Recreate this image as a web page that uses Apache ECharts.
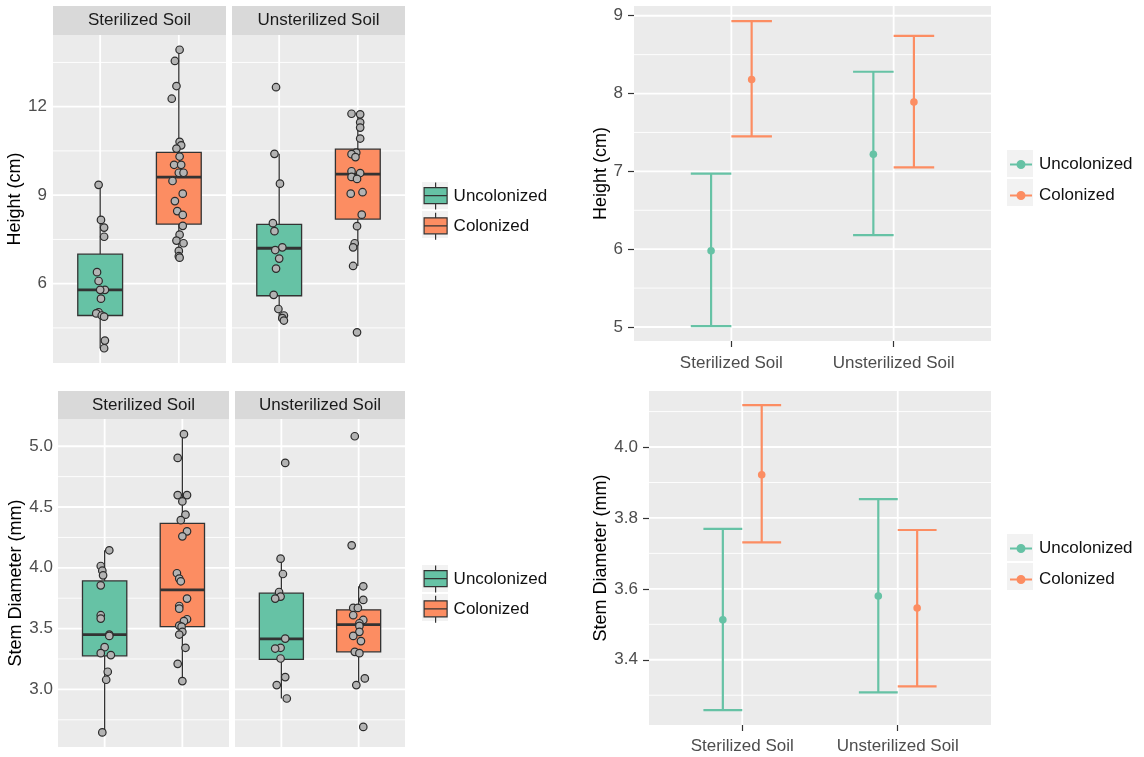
<!DOCTYPE html>
<html>
<head>
<meta charset="utf-8">
<title>Seedling height and stem diameter by soil treatment</title>
<script src="https://cdn.jsdelivr.net/npm/echarts@6/dist/echarts.min.js"></script>
<style>
  html, body { margin: 0; padding: 0; background: #ffffff; }
  #chart { width: 1144px; height: 757px; }
</style>
</head>
<body>
<div id="chart"></div>
<script>
// ---- data -------------------------------------------------------------
const soils = ['Sterilized Soil', 'Unsterilized Soil'];
const groups = ['Uncolonized', 'Colonized'];

// Box summaries: [lower whisker, Q1, median, Q3, upper whisker], [Uncolonized, Colonized]
const heightBoxSterilized = [[3.81, 4.92, 5.79, 7.00, 9.35], [6.88, 8.02, 9.61, 10.45, 13.93]];
const heightBoxUnsterilized = [[4.75, 5.59, 7.20, 8.01, 10.40], [6.60, 8.19, 9.71, 10.56, 11.76]];
const stemBoxSterilized = [[2.646, 3.276, 3.451, 3.892, 4.144], [3.068, 3.516, 3.818, 4.365, 5.099]];
const stemBoxUnsterilized = [[2.925, 3.246, 3.415, 3.791, 4.075], [3.035, 3.309, 3.533, 3.654, 3.848]];

// Individual plants: [jitter, value]
const heightSterUnc = [[-0.02, 9.35], [0.01, 8.16], [0.05, 7.90], [0.05, 7.59], [-0.04, 6.39], [-0.02, 6.09],
  [0.06, 5.79], [0.00, 5.79], [0.01, 5.49], [-0.02, 5.03], [-0.05, 4.99], [0.02, 4.92], [0.05, 4.88],
  [0.06, 4.07], [0.05, 3.81]];
const heightSterCol = [[0.01, 13.93], [-0.05, 13.55], [-0.03, 12.70], [-0.09, 12.27], [0.01, 10.81],
  [0.03, 10.69], [-0.03, 10.58], [0.01, 10.31], [-0.06, 10.03], [0.03, 10.03], [0.00, 9.76], [0.06, 9.76],
  [-0.08, 9.48], [0.05, 9.05], [-0.05, 8.80], [-0.02, 8.46], [0.05, 8.33], [0.05, 7.96], [0.01, 7.66],
  [-0.03, 7.46], [0.06, 7.37], [0.00, 7.11], [0.00, 6.93], [0.01, 6.88]];
const heightUnsterUnc = [[-0.04, 12.66], [-0.06, 10.40], [0.01, 9.39], [-0.08, 8.05], [-0.06, 7.78],
  [0.04, 7.23], [-0.05, 7.14], [0.00, 6.85], [-0.04, 6.51], [-0.07, 5.62], [-0.01, 5.14], [0.06, 4.92],
  [0.04, 4.83], [0.06, 4.75]];
const heightUnsterCol = [[-0.08, 11.76], [0.03, 11.74], [0.03, 11.47], [0.03, 11.29], [0.03, 10.92],
  [-0.02, 10.44], [-0.08, 10.39], [-0.03, 10.29], [-0.08, 9.81], [0.03, 9.75], [-0.08, 9.62], [-0.01, 9.55],
  [0.06, 9.10], [-0.09, 9.05], [0.05, 8.34], [-0.01, 7.95], [-0.04, 7.37], [-0.06, 7.23], [-0.06, 6.60],
  [-0.01, 4.35]];
const stemSterUnc = [[0.06, 4.144], [-0.05, 4.015], [-0.03, 3.976], [-0.02, 3.938], [-0.05, 3.856],
  [-0.05, 3.610], [-0.05, 3.582], [0.06, 3.451], [0.06, 3.440], [0.00, 3.347], [-0.05, 3.298], [0.08, 3.282],
  [0.04, 3.145], [0.02, 3.079], [-0.03, 2.646]];
const stemSterCol = [[0.02, 5.099], [-0.06, 4.904], [-0.06, 4.598], [0.06, 4.598], [0.00, 4.546],
  [0.04, 4.437], [-0.02, 4.392], [0.06, 4.300], [0.00, 4.259], [-0.07, 3.955], [-0.04, 3.911], [-0.02, 3.889],
  [0.06, 3.747], [-0.04, 3.686], [-0.04, 3.664], [0.06, 3.577], [0.02, 3.561], [-0.04, 3.525], [-0.01, 3.516],
  [0.00, 3.473], [-0.04, 3.451], [0.04, 3.342], [-0.06, 3.210], [0.00, 3.068]];
const stemUnsterUnc = [[0.05, 4.863], [-0.01, 4.075], [0.02, 3.949], [-0.03, 3.801], [-0.01, 3.763],
  [-0.08, 3.747], [0.05, 3.418], [-0.01, 3.342], [-0.08, 3.336], [-0.01, 3.254], [0.05, 3.101],
  [-0.06, 3.035], [0.07, 2.925]];
const stemUnsterCol = [[-0.05, 5.082], [-0.09, 4.185], [0.06, 3.848], [0.06, 3.736], [-0.07, 3.670],
  [-0.01, 3.670], [-0.07, 3.610], [0.06, 3.571], [0.01, 3.544], [0.01, 3.522], [0.01, 3.473], [-0.07, 3.440],
  [0.03, 3.397], [-0.05, 3.309], [0.01, 3.298], [0.08, 3.090], [-0.03, 3.035], [0.06, 2.691]];

// Group means with interval limits, [Uncolonized, Colonized] x [Sterilized, Unsterilized]
const heightMean = [[5.98, 7.22], [8.18, 7.89]];
const heightLower = [[5.01, 6.18], [7.45, 7.05]];
const heightUpper = [[6.97, 8.28], [8.93, 8.74]];
const stemMean = [[3.513, 3.580], [3.922, 3.546]];
const stemLower = [[3.258, 3.308], [3.731, 3.325]];
const stemUpper = [[3.769, 3.853], [4.118, 3.766]];

// Axis breaks
const heightBoxTicks = [6, 9, 12];
const heightBoxMinor = [4.5, 7.5, 10.5, 13.5];
const stemBoxTicks = [3.0, 3.5, 4.0, 4.5, 5.0];
const stemBoxMinor = [2.75, 3.25, 3.75, 4.25, 4.75];
const heightBarTicks = [5, 6, 7, 8, 9];
const heightBarMinor = [5.5, 6.5, 7.5, 8.5];
const stemBarTicks = [3.4, 3.6, 3.8, 4.0];
const stemBarMinor = [3.3, 3.5, 3.7, 3.9, 4.1];
const soilPositions = [1, 2];

// ---- styling ----------------------------------------------------------
const COLORS = ['#66c2a5', '#fc8d62'];
const FONT = "'Liberation Sans', Arial, sans-serif";
const PANEL_BG = '#ebebeb';
const STRIP_BG = '#d9d9d9';
const TICK_TEXT = '#4d4d4d';
const BOX_WIDTH = 0.57;
const DODGE = 0.125;
const CAP_WIDTH = 0.25;

const grids = [
  { left: 53, top: 35, width: 173, height: 328 },   // height, sterilized facet
  { left: 232, top: 35, width: 173, height: 328 },  // height, unsterilized facet
  { left: 58, top: 419, width: 171, height: 328 },  // stem, sterilized facet
  { left: 235, top: 419, width: 170, height: 328 }, // stem, unsterilized facet
  { left: 634, top: 6, width: 357, height: 335 },   // height means
  { left: 649, top: 391, width: 342, height: 334 }  // stem means
].map(g => Object.assign({ show: true, backgroundColor: PANEL_BG, borderWidth: 0 }, g));

// ---- helpers ----------------------------------------------------------
function gridLineSeries(idx, majorY, minorY, ymid) {
  const data = [];
  minorY.forEach(v => data.push([0, v, 0.9, ymid]));
  majorY.forEach(v => data.push([0, v, 1.8, ymid]));
  soilPositions.forEach(v => data.push([1, v, 1.8, ymid]));
  return {
    type: 'custom', xAxisIndex: idx, yAxisIndex: idx, z: 1, silent: true,
    name: 'grid', clip: true,
    encode: { x: -1, y: -1 },
    data: data,
    renderItem: function (params, api) {
      const cs = params.coordSys;
      const orient = api.value(0), v = api.value(1), w = api.value(2), mid = api.value(3);
      if (orient === 0) {
        const y = api.coord([1.5, v])[1];
        return { type: 'line', shape: { x1: cs.x, y1: y, x2: cs.x + cs.width, y2: y },
          style: { stroke: '#ffffff', lineWidth: w } };
      }
      const x = api.coord([v, mid])[0];
      return { type: 'line', shape: { x1: x, y1: cs.y, x2: x, y2: cs.y + cs.height },
        style: { stroke: '#ffffff', lineWidth: w } };
    }
  };
}

function boxSeries(idx, gi, summary) {
  return {
    type: 'custom', name: groups[gi], xAxisIndex: idx, yAxisIndex: idx, z: 2,
    itemStyle: { color: COLORS[gi] },
    encode: { x: 0, y: [1, 2, 3, 4, 5] },
    data: [[gi + 1].concat(summary)],
    renderItem: function (params, api) {
      const x = api.value(0);
      const lo = api.coord([x, api.value(1)]);
      const q1 = api.coord([x, api.value(2)]);
      const md = api.coord([x, api.value(3)]);
      const q3 = api.coord([x, api.value(4)]);
      const hi = api.coord([x, api.value(5)]);
      const l = api.coord([x - BOX_WIDTH / 2, api.value(3)])[0];
      const r = api.coord([x + BOX_WIDTH / 2, api.value(3)])[0];
      const edge = { stroke: '#333333', lineWidth: 1.3 };
      return {
        type: 'group', children: [
          { type: 'line', shape: { x1: lo[0], y1: lo[1], x2: q1[0], y2: q1[1] }, style: edge },
          { type: 'line', shape: { x1: hi[0], y1: hi[1], x2: q3[0], y2: q3[1] }, style: edge },
          { type: 'rect', shape: { x: l, y: q3[1], width: r - l, height: q1[1] - q3[1] },
            style: { fill: api.visual('color'), stroke: '#333333', lineWidth: 1.3 } },
          { type: 'line', shape: { x1: l, y1: md[1], x2: r, y2: md[1] },
            style: { stroke: '#333333', lineWidth: 2.8 } }
        ]
      };
    }
  };
}

function pointSeries(idx, gi, pts) {
  return {
    type: 'scatter', name: 'plants', xAxisIndex: idx, yAxisIndex: idx, z: 3, silent: true,
    symbol: 'circle', symbolSize: 7.5,
    itemStyle: { color: '#b3b3b3', borderColor: '#2b2b2b', borderWidth: 1.2, opacity: 1 },
    data: pts.map(p => [gi + 1 + p[0], p[1]])
  };
}

function errorSeries(idx, gi, mean, lower, upper) {
  const offset = gi === 0 ? -DODGE : DODGE;
  return {
    type: 'custom', name: groups[gi], xAxisIndex: idx, yAxisIndex: idx, z: 3,
    itemStyle: { color: COLORS[gi] },
    encode: { x: 0, y: [1, 2, 3] },
    data: soilPositions.map((p, si) => [p + offset, mean[gi][si], lower[gi][si], upper[gi][si]]),
    renderItem: function (params, api) {
      const x = api.value(0);
      const m = api.coord([x, api.value(1)]);
      const lo = api.coord([x, api.value(2)]);
      const hi = api.coord([x, api.value(3)]);
      const l = api.coord([x - CAP_WIDTH / 2, api.value(1)])[0];
      const r = api.coord([x + CAP_WIDTH / 2, api.value(1)])[0];
      const c = api.visual('color');
      const st = { stroke: c, lineWidth: 2.2 };
      return {
        type: 'group', children: [
          { type: 'line', shape: { x1: m[0], y1: lo[1], x2: m[0], y2: hi[1] }, style: st },
          { type: 'line', shape: { x1: l, y1: lo[1], x2: r, y2: lo[1] }, style: st },
          { type: 'line', shape: { x1: l, y1: hi[1], x2: r, y2: hi[1] }, style: st },
          { type: 'circle', shape: { cx: m[0], cy: m[1], r: 3.8 }, style: { fill: c } }
        ]
      };
    }
  };
}

function facetX(idx) {
  return { type: 'value', gridIndex: idx, min: 0.4, max: 2.6,
    axisLabel: { show: false }, axisTick: { show: false }, axisLine: { show: false },
    splitLine: { show: false } };
}

function meansX(idx, margin) {
  return { type: 'value', gridIndex: idx, min: 0.4, max: 2.6,
    axisLine: { show: false },
    axisTick: { show: true, customValues: soilPositions, length: 6, lineStyle: { color: '#333333', width: 1.2 } },
    axisLabel: { customValues: soilPositions, formatter: v => soils[Math.round(v) - 1],
      fontFamily: FONT, fontSize: 17, color: TICK_TEXT, margin: margin },
    splitLine: { show: false } };
}

function yAxisOf(idx, min, max, ticks, opts) {
  const o = Object.assign({ showLabels: true, showTicks: false, name: '', nameGap: 30, digits: 0, margin: 6 }, opts);
  return {
    type: 'value', gridIndex: idx, min: min, max: max,
    name: o.name, nameLocation: 'middle', nameGap: o.nameGap,
    nameTextStyle: { fontFamily: FONT, fontSize: 18, color: '#000000' },
    axisLine: { show: false },
    axisTick: { show: o.showTicks, customValues: ticks, length: 6, lineStyle: { color: '#333333', width: 1.2 } },
    axisLabel: { show: o.showLabels, customValues: ticks, formatter: v => Number(v).toFixed(o.digits),
      fontFamily: FONT, fontSize: 17, color: TICK_TEXT, margin: o.margin },
    splitLine: { show: false }
  };
}

// Facet strip headers and legend key backgrounds
const graphics = [];
[[0, 0], [1, 1], [2, 0], [3, 1]].forEach(([gi, si]) => {
  const g = grids[gi];
  const top = gi < 2 ? 6 : 391;
  const h = g.top - top;
  graphics.push({ type: 'rect', left: g.left, top: top, shape: { width: g.width, height: h },
    style: { fill: STRIP_BG }, silent: true });
  graphics.push({ type: 'text', x: g.left + g.width / 2, y: top + h / 2,
    style: { text: soils[si], fontFamily: FONT, fontSize: 17, fill: '#1a1a1a', align: 'center', verticalAlign: 'middle' },
    silent: true });
});
const legendSpots = [[422, 182], [422, 565], [1007, 150], [1007, 534]];
legendSpots.forEach(([x, y]) => {
  [0, 1].forEach(k => graphics.push({ type: 'rect', left: x, top: y + k * 29,
    shape: { width: 26, height: 27 }, style: { fill: '#f2f2f2' }, silent: true }));
});

const BOX_ICON = 'path://M0,0M26,27M13,0V5M1.5,5H24.5V21H1.5ZM1.5,13H24.5M13,21V27';
const LINE_ICON = 'path://M0,0M26,27M2,13.5H24M13,10A3.5,3.5,0,1,1,13,17A3.5,3.5,0,1,1,13,10Z';

function legendOf(spot, icon, kind) {
  return {
    orient: 'vertical', left: spot[0], top: spot[1], itemWidth: 26, itemHeight: 27, itemGap: 2,
    padding: 0, selectedMode: false,
    textStyle: { fontFamily: FONT, fontSize: 17, color: '#111111' },
    data: groups.map((name, gi) => ({
      name: name, icon: icon,
      itemStyle: kind === 'box'
        ? { color: COLORS[gi], borderColor: '#333333', borderWidth: 1.2 }
        : { color: COLORS[gi], borderColor: COLORS[gi], borderWidth: 2 }
    }))
  };
}

const option = {
  backgroundColor: '#ffffff',
  animation: false,
  grid: grids,
  graphic: graphics,
  legend: [
    legendOf(legendSpots[0], BOX_ICON, 'box'),
    legendOf(legendSpots[1], BOX_ICON, 'box'),
    legendOf(legendSpots[2], LINE_ICON, 'line'),
    legendOf(legendSpots[3], LINE_ICON, 'line')
  ],
  xAxis: [facetX(0), facetX(1), facetX(2), facetX(3), meansX(4, 14), meansX(5, 13)],
  yAxis: [
    yAxisOf(0, 3.31, 14.43, heightBoxTicks, { name: 'Height (cm)', nameGap: 23, margin: 6 }),
    yAxisOf(1, 3.31, 14.43, heightBoxTicks, { showLabels: false }),
    yAxisOf(2, 2.526, 5.224, stemBoxTicks, { name: 'Stem Diameter (mm)', nameGap: 30, digits: 1, margin: 5 }),
    yAxisOf(3, 2.526, 5.224, stemBoxTicks, { showLabels: false }),
    yAxisOf(4, 4.82, 9.125, heightBarTicks, { name: 'Height (cm)', nameGap: 19, showTicks: true, margin: 11 }),
    yAxisOf(5, 3.216, 4.158, stemBarTicks, { name: 'Stem Diameter (mm)', nameGap: 34, showTicks: true, digits: 1, margin: 11 })
  ],
  series: [
    gridLineSeries(0, heightBoxTicks, heightBoxMinor, 8),
    gridLineSeries(1, heightBoxTicks, heightBoxMinor, 8),
    gridLineSeries(2, stemBoxTicks, stemBoxMinor, 4),
    gridLineSeries(3, stemBoxTicks, stemBoxMinor, 4),
    gridLineSeries(4, heightBarTicks, heightBarMinor, 7),
    gridLineSeries(5, stemBarTicks, stemBarMinor, 3.6),

    boxSeries(0, 0, heightBoxSterilized[0]),
    boxSeries(0, 1, heightBoxSterilized[1]),
    boxSeries(1, 0, heightBoxUnsterilized[0]),
    boxSeries(1, 1, heightBoxUnsterilized[1]),
    boxSeries(2, 0, stemBoxSterilized[0]),
    boxSeries(2, 1, stemBoxSterilized[1]),
    boxSeries(3, 0, stemBoxUnsterilized[0]),
    boxSeries(3, 1, stemBoxUnsterilized[1]),

    pointSeries(0, 0, heightSterUnc),
    pointSeries(0, 1, heightSterCol),
    pointSeries(1, 0, heightUnsterUnc),
    pointSeries(1, 1, heightUnsterCol),
    pointSeries(2, 0, stemSterUnc),
    pointSeries(2, 1, stemSterCol),
    pointSeries(3, 0, stemUnsterUnc),
    pointSeries(3, 1, stemUnsterCol),

    errorSeries(4, 0, heightMean, heightLower, heightUpper),
    errorSeries(4, 1, heightMean, heightLower, heightUpper),
    errorSeries(5, 0, stemMean, stemLower, stemUpper),
    errorSeries(5, 1, stemMean, stemLower, stemUpper)
  ]
};

const chart = echarts.init(document.getElementById('chart'), null, { renderer: 'canvas' });
chart.setOption(option);
</script>
</body>
</html>
